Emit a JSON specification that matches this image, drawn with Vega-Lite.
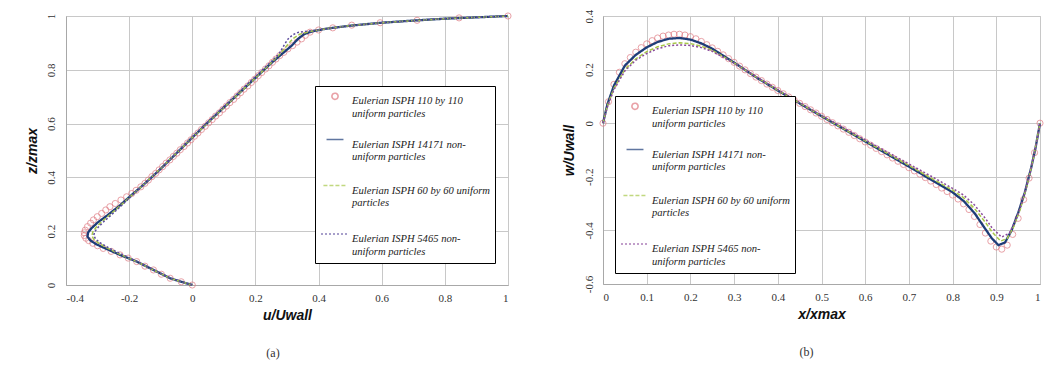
{
"$schema": "https://vega.github.io/schema/vega-lite/v6.json",
"padding": {"left": 24, "top": 8, "right": 5, "bottom": 5},
"spacing": 47,
"datasets": {
"a": [
{"s":"A","u":0,"z":0},{"s":"A","u":-0.035,"z":0.012},{"s":"A","u":-0.07,"z":0.025},{"s":"A","u":-0.098,"z":0.04},{"s":"A","u":-0.123,"z":0.056},{"s":"A","u":-0.15,"z":0.07},{"s":"A","u":-0.176,"z":0.087},{"s":"A","u":-0.203,"z":0.1},{"s":"A","u":-0.229,"z":0.112},{"s":"A","u":-0.257,"z":0.125},{"s":"A","u":-0.282,"z":0.136},{"s":"A","u":-0.3,"z":0.146},{"s":"A","u":-0.315,"z":0.155},{"s":"A","u":-0.328,"z":0.165},{"s":"A","u":-0.337,"z":0.174},{"s":"A","u":-0.342,"z":0.184},{"s":"A","u":-0.342,"z":0.194},{"s":"A","u":-0.339,"z":0.204},{"s":"A","u":-0.332,"z":0.217},{"s":"A","u":-0.322,"z":0.23},{"s":"A","u":-0.313,"z":0.242},{"s":"A","u":-0.301,"z":0.254},{"s":"A","u":-0.287,"z":0.266},{"s":"A","u":-0.274,"z":0.279},{"s":"A","u":-0.261,"z":0.291},{"s":"A","u":-0.244,"z":0.303},{"s":"A","u":-0.226,"z":0.316},{"s":"A","u":-0.208,"z":0.328},{"s":"A","u":-0.192,"z":0.34},{"s":"A","u":-0.178,"z":0.352},{"s":"A","u":-0.163,"z":0.365},{"s":"A","u":-0.15,"z":0.378},{"s":"A","u":-0.139,"z":0.39},{"s":"A","u":-0.128,"z":0.403},{"s":"A","u":-0.116,"z":0.415},{"s":"A","u":-0.105,"z":0.428},{"s":"A","u":-0.094,"z":0.44},{"s":"A","u":-0.083,"z":0.453},{"s":"A","u":-0.071,"z":0.465},{"s":"A","u":-0.06,"z":0.478},{"s":"A","u":-0.049,"z":0.49},{"s":"A","u":-0.038,"z":0.503},{"s":"A","u":-0.026,"z":0.515},{"s":"A","u":-0.015,"z":0.528},{"s":"A","u":-0.004,"z":0.54},{"s":"A","u":0.007,"z":0.553},{"s":"A","u":0.018,"z":0.565},{"s":"A","u":0.029,"z":0.578},{"s":"A","u":0.041,"z":0.59},{"s":"A","u":0.052,"z":0.603},{"s":"A","u":0.063,"z":0.615},{"s":"A","u":0.074,"z":0.628},{"s":"A","u":0.086,"z":0.64},{"s":"A","u":0.097,"z":0.653},{"s":"A","u":0.108,"z":0.665},{"s":"A","u":0.119,"z":0.678},{"s":"A","u":0.131,"z":0.69},{"s":"A","u":0.142,"z":0.703},{"s":"A","u":0.153,"z":0.715},{"s":"A","u":0.164,"z":0.728},{"s":"A","u":0.176,"z":0.74},{"s":"A","u":0.187,"z":0.753},{"s":"A","u":0.198,"z":0.765},{"s":"A","u":0.209,"z":0.778},{"s":"A","u":0.22,"z":0.79},{"s":"A","u":0.232,"z":0.803},{"s":"A","u":0.243,"z":0.815},{"s":"A","u":0.254,"z":0.828},{"s":"A","u":0.265,"z":0.84},{"s":"A","u":0.277,"z":0.853},{"s":"A","u":0.29,"z":0.865},{"s":"A","u":0.303,"z":0.878},{"s":"A","u":0.318,"z":0.89},{"s":"A","u":0.332,"z":0.903},{"s":"A","u":0.346,"z":0.915},{"s":"A","u":0.358,"z":0.928},{"s":"A","u":0.373,"z":0.94},{"s":"A","u":0.4,"z":0.948},{"s":"A","u":0.445,"z":0.956},{"s":"A","u":0.505,"z":0.966},{"s":"A","u":0.595,"z":0.975},{"s":"A","u":0.712,"z":0.984},{"s":"A","u":0.845,"z":0.993},{"s":"A","u":1,"z":1},
{"s":"B","u":0,"z":0},{"s":"B","u":-0.035,"z":0.012},{"s":"B","u":-0.07,"z":0.025},{"s":"B","u":-0.123,"z":0.056},{"s":"B","u":-0.176,"z":0.087},{"s":"B","u":-0.229,"z":0.112},{"s":"B","u":-0.275,"z":0.136},{"s":"B","u":-0.305,"z":0.152},{"s":"B","u":-0.323,"z":0.166},{"s":"B","u":-0.332,"z":0.18},{"s":"B","u":-0.33,"z":0.195},{"s":"B","u":-0.32,"z":0.21},{"s":"B","u":-0.3,"z":0.232},{"s":"B","u":-0.27,"z":0.258},{"s":"B","u":-0.23,"z":0.295},{"s":"B","u":-0.19,"z":0.337},{"s":"B","u":-0.155,"z":0.372},{"s":"B","u":-0.1,"z":0.432},{"s":"B","u":-0.05,"z":0.49},{"s":"B","u":0,"z":0.548},{"s":"B","u":0.05,"z":0.605},{"s":"B","u":0.1,"z":0.66},{"s":"B","u":0.15,"z":0.715},{"s":"B","u":0.2,"z":0.77},{"s":"B","u":0.25,"z":0.825},{"s":"B","u":0.29,"z":0.865},{"s":"B","u":0.315,"z":0.89},{"s":"B","u":0.335,"z":0.915},{"s":"B","u":0.355,"z":0.933},{"s":"B","u":0.38,"z":0.943},{"s":"B","u":0.42,"z":0.952},{"s":"B","u":0.5,"z":0.964},{"s":"B","u":0.6,"z":0.975},{"s":"B","u":0.7,"z":0.983},{"s":"B","u":0.8,"z":0.99},{"s":"B","u":0.9,"z":0.995},{"s":"B","u":1,"z":1},
{"s":"C","u":0,"z":0},{"s":"C","u":-0.035,"z":0.012},{"s":"C","u":-0.07,"z":0.025},{"s":"C","u":-0.123,"z":0.056},{"s":"C","u":-0.176,"z":0.087},{"s":"C","u":-0.229,"z":0.114},{"s":"C","u":-0.27,"z":0.138},{"s":"C","u":-0.297,"z":0.156},{"s":"C","u":-0.312,"z":0.17},{"s":"C","u":-0.318,"z":0.183},{"s":"C","u":-0.315,"z":0.198},{"s":"C","u":-0.305,"z":0.214},{"s":"C","u":-0.288,"z":0.234},{"s":"C","u":-0.262,"z":0.26},{"s":"C","u":-0.225,"z":0.298},{"s":"C","u":-0.155,"z":0.372},{"s":"C","u":-0.05,"z":0.49},{"s":"C","u":0,"z":0.548},{"s":"C","u":0.1,"z":0.66},{"s":"C","u":0.2,"z":0.77},{"s":"C","u":0.25,"z":0.826},{"s":"C","u":0.28,"z":0.862},{"s":"C","u":0.3,"z":0.89},{"s":"C","u":0.318,"z":0.915},{"s":"C","u":0.34,"z":0.932},{"s":"C","u":0.37,"z":0.942},{"s":"C","u":0.42,"z":0.952},{"s":"C","u":0.5,"z":0.964},{"s":"C","u":0.6,"z":0.975},{"s":"C","u":0.8,"z":0.99},{"s":"C","u":1,"z":1},
{"s":"D","u":0,"z":0},{"s":"D","u":-0.035,"z":0.012},{"s":"D","u":-0.07,"z":0.026},{"s":"D","u":-0.123,"z":0.057},{"s":"D","u":-0.176,"z":0.088},{"s":"D","u":-0.225,"z":0.115},{"s":"D","u":-0.265,"z":0.138},{"s":"D","u":-0.292,"z":0.157},{"s":"D","u":-0.307,"z":0.172},{"s":"D","u":-0.312,"z":0.186},{"s":"D","u":-0.308,"z":0.2},{"s":"D","u":-0.297,"z":0.216},{"s":"D","u":-0.28,"z":0.236},{"s":"D","u":-0.255,"z":0.262},{"s":"D","u":-0.22,"z":0.3},{"s":"D","u":-0.155,"z":0.372},{"s":"D","u":-0.05,"z":0.49},{"s":"D","u":0,"z":0.55},{"s":"D","u":0.1,"z":0.663},{"s":"D","u":0.2,"z":0.775},{"s":"D","u":0.25,"z":0.83},{"s":"D","u":0.275,"z":0.86},{"s":"D","u":0.29,"z":0.89},{"s":"D","u":0.302,"z":0.913},{"s":"D","u":0.318,"z":0.93},{"s":"D","u":0.335,"z":0.939},{"s":"D","u":0.365,"z":0.944},{"s":"D","u":0.42,"z":0.952},{"s":"D","u":0.5,"z":0.964},{"s":"D","u":0.6,"z":0.975},{"s":"D","u":0.8,"z":0.99},{"s":"D","u":1,"z":1}
],
"b": [
{"s":"A","x":0,"w":0},{"s":"A","x":0.0125,"w":0.08},{"s":"A","x":0.025,"w":0.145},{"s":"A","x":0.0375,"w":0.19},{"s":"A","x":0.05,"w":0.222},{"s":"A","x":0.0625,"w":0.245},{"s":"A","x":0.075,"w":0.265},{"s":"A","x":0.0875,"w":0.282},{"s":"A","x":0.1,"w":0.296},{"s":"A","x":0.1125,"w":0.308},{"s":"A","x":0.125,"w":0.318},{"s":"A","x":0.1375,"w":0.325},{"s":"A","x":0.15,"w":0.329},{"s":"A","x":0.1625,"w":0.332},{"s":"A","x":0.175,"w":0.332},{"s":"A","x":0.1875,"w":0.329},{"s":"A","x":0.2,"w":0.323},{"s":"A","x":0.2125,"w":0.315},{"s":"A","x":0.225,"w":0.305},{"s":"A","x":0.2375,"w":0.293},{"s":"A","x":0.25,"w":0.281},{"s":"A","x":0.2625,"w":0.268},{"s":"A","x":0.275,"w":0.255},{"s":"A","x":0.2875,"w":0.241},{"s":"A","x":0.3,"w":0.227},{"s":"A","x":0.3125,"w":0.213},{"s":"A","x":0.325,"w":0.199},{"s":"A","x":0.3375,"w":0.185},{"s":"A","x":0.35,"w":0.172},{"s":"A","x":0.3625,"w":0.159},{"s":"A","x":0.375,"w":0.146},{"s":"A","x":0.3875,"w":0.134},{"s":"A","x":0.4,"w":0.122},{"s":"A","x":0.4125,"w":0.11},{"s":"A","x":0.425,"w":0.098},{"s":"A","x":0.4375,"w":0.086},{"s":"A","x":0.45,"w":0.074},{"s":"A","x":0.4625,"w":0.062},{"s":"A","x":0.475,"w":0.05},{"s":"A","x":0.4875,"w":0.038},{"s":"A","x":0.5,"w":0.026},{"s":"A","x":0.5125,"w":0.014},{"s":"A","x":0.525,"w":0.002},{"s":"A","x":0.5375,"w":-0.01},{"s":"A","x":0.55,"w":-0.022},{"s":"A","x":0.5625,"w":-0.034},{"s":"A","x":0.575,"w":-0.046},{"s":"A","x":0.5875,"w":-0.058},{"s":"A","x":0.6,"w":-0.07},{"s":"A","x":0.6125,"w":-0.082},{"s":"A","x":0.625,"w":-0.094},{"s":"A","x":0.6375,"w":-0.106},{"s":"A","x":0.65,"w":-0.118},{"s":"A","x":0.6625,"w":-0.13},{"s":"A","x":0.675,"w":-0.142},{"s":"A","x":0.6875,"w":-0.154},{"s":"A","x":0.7,"w":-0.166},{"s":"A","x":0.7125,"w":-0.178},{"s":"A","x":0.725,"w":-0.19},{"s":"A","x":0.7375,"w":-0.203},{"s":"A","x":0.75,"w":-0.216},{"s":"A","x":0.7625,"w":-0.229},{"s":"A","x":0.775,"w":-0.242},{"s":"A","x":0.7875,"w":-0.255},{"s":"A","x":0.8,"w":-0.268},{"s":"A","x":0.8125,"w":-0.283},{"s":"A","x":0.825,"w":-0.301},{"s":"A","x":0.8375,"w":-0.322},{"s":"A","x":0.85,"w":-0.348},{"s":"A","x":0.8625,"w":-0.378},{"s":"A","x":0.875,"w":-0.41},{"s":"A","x":0.8875,"w":-0.44},{"s":"A","x":0.9,"w":-0.462},{"s":"A","x":0.9125,"w":-0.47},{"s":"A","x":0.925,"w":-0.455},{"s":"A","x":0.9375,"w":-0.415},{"s":"A","x":0.95,"w":-0.355},{"s":"A","x":0.9625,"w":-0.285},{"s":"A","x":0.975,"w":-0.205},{"s":"A","x":0.9875,"w":-0.11},{"s":"A","x":1,"w":0},
{"s":"B","x":0,"w":0},{"s":"B","x":0.01,"w":0.07},{"s":"B","x":0.025,"w":0.14},{"s":"B","x":0.05,"w":0.215},{"s":"B","x":0.075,"w":0.255},{"s":"B","x":0.1,"w":0.283},{"s":"B","x":0.125,"w":0.303},{"s":"B","x":0.15,"w":0.315},{"s":"B","x":0.175,"w":0.318},{"s":"B","x":0.2,"w":0.312},{"s":"B","x":0.225,"w":0.298},{"s":"B","x":0.25,"w":0.278},{"s":"B","x":0.3,"w":0.226},{"s":"B","x":0.35,"w":0.172},{"s":"B","x":0.4,"w":0.122},{"s":"B","x":0.45,"w":0.074},{"s":"B","x":0.5,"w":0.026},{"s":"B","x":0.55,"w":-0.021},{"s":"B","x":0.6,"w":-0.068},{"s":"B","x":0.65,"w":-0.115},{"s":"B","x":0.7,"w":-0.162},{"s":"B","x":0.75,"w":-0.21},{"s":"B","x":0.8,"w":-0.258},{"s":"B","x":0.825,"w":-0.29},{"s":"B","x":0.85,"w":-0.335},{"s":"B","x":0.875,"w":-0.395},{"s":"B","x":0.89,"w":-0.43},{"s":"B","x":0.905,"w":-0.455},{"s":"B","x":0.92,"w":-0.445},{"s":"B","x":0.935,"w":-0.4},{"s":"B","x":0.95,"w":-0.335},{"s":"B","x":0.965,"w":-0.26},{"s":"B","x":0.98,"w":-0.165},{"s":"B","x":0.99,"w":-0.09},{"s":"B","x":1,"w":0},
{"s":"C","x":0,"w":0},{"s":"C","x":0.01,"w":0.065},{"s":"C","x":0.025,"w":0.13},{"s":"C","x":0.05,"w":0.2},{"s":"C","x":0.075,"w":0.24},{"s":"C","x":0.1,"w":0.267},{"s":"C","x":0.125,"w":0.285},{"s":"C","x":0.15,"w":0.296},{"s":"C","x":0.175,"w":0.3},{"s":"C","x":0.2,"w":0.297},{"s":"C","x":0.225,"w":0.287},{"s":"C","x":0.25,"w":0.272},{"s":"C","x":0.3,"w":0.225},{"s":"C","x":0.35,"w":0.173},{"s":"C","x":0.4,"w":0.123},{"s":"C","x":0.45,"w":0.075},{"s":"C","x":0.5,"w":0.027},{"s":"C","x":0.55,"w":-0.02},{"s":"C","x":0.6,"w":-0.066},{"s":"C","x":0.65,"w":-0.112},{"s":"C","x":0.7,"w":-0.158},{"s":"C","x":0.75,"w":-0.204},{"s":"C","x":0.8,"w":-0.25},{"s":"C","x":0.825,"w":-0.278},{"s":"C","x":0.85,"w":-0.318},{"s":"C","x":0.875,"w":-0.37},{"s":"C","x":0.89,"w":-0.405},{"s":"C","x":0.91,"w":-0.44},{"s":"C","x":0.925,"w":-0.43},{"s":"C","x":0.94,"w":-0.385},{"s":"C","x":0.955,"w":-0.32},{"s":"C","x":0.97,"w":-0.235},{"s":"C","x":0.985,"w":-0.13},{"s":"C","x":1,"w":0},
{"s":"D","x":0,"w":0},{"s":"D","x":0.01,"w":0.06},{"s":"D","x":0.025,"w":0.125},{"s":"D","x":0.05,"w":0.195},{"s":"D","x":0.075,"w":0.235},{"s":"D","x":0.1,"w":0.26},{"s":"D","x":0.125,"w":0.278},{"s":"D","x":0.15,"w":0.289},{"s":"D","x":0.175,"w":0.292},{"s":"D","x":0.2,"w":0.29},{"s":"D","x":0.225,"w":0.282},{"s":"D","x":0.25,"w":0.268},{"s":"D","x":0.3,"w":0.224},{"s":"D","x":0.35,"w":0.174},{"s":"D","x":0.4,"w":0.125},{"s":"D","x":0.45,"w":0.077},{"s":"D","x":0.5,"w":0.029},{"s":"D","x":0.55,"w":-0.017},{"s":"D","x":0.6,"w":-0.062},{"s":"D","x":0.65,"w":-0.107},{"s":"D","x":0.7,"w":-0.152},{"s":"D","x":0.75,"w":-0.197},{"s":"D","x":0.8,"w":-0.243},{"s":"D","x":0.825,"w":-0.268},{"s":"D","x":0.85,"w":-0.305},{"s":"D","x":0.875,"w":-0.355},{"s":"D","x":0.89,"w":-0.39},{"s":"D","x":0.912,"w":-0.425},{"s":"D","x":0.93,"w":-0.41},{"s":"D","x":0.945,"w":-0.36},{"s":"D","x":0.96,"w":-0.29},{"s":"D","x":0.975,"w":-0.2},{"s":"D","x":0.99,"w":-0.09},{"s":"D","x":1,"w":0}
]
},
"hconcat": [
{
"width": 442, "height": 269,
"data": {"name": "a"},
"title": {"text": "(a)", "orient": "bottom", "offset": 26, "dx": -14, "font": "Liberation Serif", "fontSize": 12, "fontWeight": "normal", "color": "#333"},
"encoding": {
  "x": {"field": "u", "type": "quantitative", "scale": {"domain": [-0.4, 1], "nice": false, "zero": false},
   "axis": {"title": "u/Uwall", "values": [-0.4,-0.2,0,0.2,0.4,0.6,0.8,1], "ticks": false, "labelPadding": 7, "titlePadding": 5,
    "labelFont": "Liberation Serif", "labelFontSize": 11, "labelColor": "#333",
    "labelExpr": "datum.value < 0 ? '-' + format(-datum.value, '') : format(datum.value, '')",
    "gridColor": "#c8c8c8", "domainColor": "#a8a8a8",
    "titleFont": "Liberation Sans", "titleFontSize": 14, "titleFontWeight": "bold", "titleFontStyle": "italic", "titleColor": "#111"}},
  "y": {"field": "z", "type": "quantitative", "scale": {"domain": [0, 1], "nice": false},
   "axis": {"title": "z/zmax", "values": [0,0.2,0.4,0.6,0.8,1], "ticks": false, "labelAngle": 270, "labelAlign": "center", "labelBaseline": "bottom", "labelPadding": 10, "titlePadding": 6,
    "labelFont": "Liberation Serif", "labelFontSize": 11, "labelColor": "#333",
    "labelExpr": "datum.value < 0 ? '-' + format(-datum.value, '') : format(datum.value, '')",
    "gridColor": "#c8c8c8", "domainColor": "#a8a8a8",
    "titleFont": "Liberation Sans", "titleFontSize": 14, "titleFontWeight": "bold", "titleFontStyle": "italic", "titleColor": "#111"}},
  "color": {"field": "s", "type": "nominal", "scale": {"domain": ["A","B","C","D"], "range": ["#e07a82","#1e3d78","#a8c84a","#5b4b9c"]},
   "legend": {"orient": "none", "legendX": 249, "legendY": 70, "title": null,
    "labelExpr": "datum.value == 'A' ? ['Eulerian ISPH 110 by 110', 'uniform particles'] : datum.value == 'B' ? ['Eulerian ISPH 14171 non-', 'uniform particles'] : datum.value == 'C' ? ['Eulerian ISPH 60 by 60 uniform', 'particles'] : ['Eulerian ISPH 5465 non-', 'uniform particles']",
    "labelFont": "Liberation Serif", "labelFontStyle": "italic", "labelFontSize": 10.6, "labelColor": "#222", "labelLimit": 300, "labelBaseline": "top", "labelOffset": 2,
    "strokeColor": "black", "fillColor": "white", "padding": 5, "rowPadding": 10, "symbolStrokeWidth": 1.6}}
},
"layer": [
{"transform": [{"filter": "datum.s == 'A'"}],
 "mark": {"type": "point", "filled": false, "strokeWidth": 1},
 "encoding": {
  "shape": {"field": "s", "type": "nominal", "scale": {"domain": ["A","B","C","D"], "range": ["circle","stroke","stroke","stroke"]}},
  "size": {"field": "s", "type": "nominal", "scale": {"domain": ["A","B","C","D"], "range": [38,784,784,784]}}
 }},
{"transform": [{"filter": "datum.s == 'B'"}],
 "mark": {"type": "line", "strokeWidth": 2.3},
 "encoding": {
  "order": {"field": "z", "type": "quantitative"},
  "strokeDash": {"field": "s", "type": "nominal", "scale": {"domain": ["A","B","C","D"], "range": [[1,0],[1,0],[4,2],[2,2]]}}
 }},
{"transform": [{"filter": "datum.s == 'C' || datum.s == 'D'"}],
 "mark": {"type": "line", "strokeWidth": 1.5},
 "encoding": {
  "order": {"field": "z", "type": "quantitative"},
  "strokeDash": {"field": "s", "type": "nominal", "scale": {"domain": ["A","B","C","D"], "range": [[1,0],[1,0],[4,2],[2,2]]}}
 }}
]
},
{
"width": 437, "height": 268,
"data": {"name": "b"},
"title": {"text": "(b)", "orient": "bottom", "offset": 26, "dx": -15, "font": "Liberation Serif", "fontSize": 12, "fontWeight": "normal", "color": "#333"},
"encoding": {
  "x": {"field": "x", "type": "quantitative", "scale": {"domain": [0, 1], "nice": false},
   "axis": {"title": "x/xmax", "values": [0,0.1,0.2,0.3,0.4,0.5,0.6,0.7,0.8,0.9,1], "ticks": false, "labelPadding": 7, "titlePadding": 5,
    "labelFont": "Liberation Serif", "labelFontSize": 11, "labelColor": "#333",
    "labelExpr": "datum.value < 0 ? '-' + format(-datum.value, '') : format(datum.value, '')",
    "gridColor": "#c8c8c8", "domainColor": "#a8a8a8",
    "titleFont": "Liberation Sans", "titleFontSize": 14, "titleFontWeight": "bold", "titleFontStyle": "italic", "titleColor": "#111"}},
  "y": {"field": "w", "type": "quantitative", "scale": {"domain": [-0.6, 0.4], "nice": false, "zero": false},
   "axis": {"title": "w/Uwall", "values": [-0.6,-0.4,-0.2,0,0.2,0.4], "ticks": false, "labelAngle": 270, "labelAlign": "center", "labelBaseline": "bottom", "labelPadding": 9, "titlePadding": 7,
    "labelFont": "Liberation Serif", "labelFontSize": 11, "labelColor": "#333",
    "labelExpr": "datum.value < 0 ? '-' + format(-datum.value, '') : format(datum.value, '')",
    "gridColor": "#c8c8c8", "domainColor": "#a8a8a8",
    "titleFont": "Liberation Sans", "titleFontSize": 14, "titleFontWeight": "bold", "titleFontStyle": "italic", "titleColor": "#111"}},
  "color": {"field": "s", "type": "nominal", "scale": {"domain": ["A","B","C","D"], "range": ["#e07a82","#1e3d78","#a8c84a","#8a4a9c"]},
   "legend": {"orient": "none", "legendX": 12, "legendY": 80, "title": null,
    "labelExpr": "datum.value == 'A' ? ['Eulerian ISPH 110 by 110', 'uniform particles'] : datum.value == 'B' ? ['Eulerian ISPH 14171 non-', 'uniform particles'] : datum.value == 'C' ? ['Eulerian ISPH 60 by 60 uniform', 'particles'] : ['Eulerian ISPH 5465 non-', 'uniform particles']",
    "labelFont": "Liberation Serif", "labelFontStyle": "italic", "labelFontSize": 10.6, "labelColor": "#222", "labelLimit": 300, "labelBaseline": "top", "labelOffset": 2,
    "strokeColor": "black", "fillColor": "white", "padding": 5, "rowPadding": 10, "symbolStrokeWidth": 1.6}}
},
"layer": [
{"transform": [{"filter": "datum.s == 'A'"}],
 "mark": {"type": "point", "filled": false, "strokeWidth": 1},
 "encoding": {
  "shape": {"field": "s", "type": "nominal", "scale": {"domain": ["A","B","C","D"], "range": ["circle","stroke","stroke","stroke"]}},
  "size": {"field": "s", "type": "nominal", "scale": {"domain": ["A","B","C","D"], "range": [38,784,784,784]}}
 }},
{"transform": [{"filter": "datum.s == 'B'"}],
 "mark": {"type": "line", "strokeWidth": 2.3},
 "encoding": {
  "strokeDash": {"field": "s", "type": "nominal", "scale": {"domain": ["A","B","C","D"], "range": [[1,0],[1,0],[4,2],[2,2]]}}
 }},
{"transform": [{"filter": "datum.s == 'C' || datum.s == 'D'"}],
 "mark": {"type": "line", "strokeWidth": 1.5},
 "encoding": {
  "strokeDash": {"field": "s", "type": "nominal", "scale": {"domain": ["A","B","C","D"], "range": [[1,0],[1,0],[4,2],[2,2]]}}
 }}
]
}
],
"resolve": {"scale": {"color": "independent", "strokeDash": "independent", "shape": "independent", "size": "independent"}, "legend": {"color": "independent", "strokeDash": "independent", "shape": "independent", "size": "independent"}},
"config": {
 "background": "white",
 "view": {"stroke": "#bdbdbd", "strokeWidth": 1}
}
}
